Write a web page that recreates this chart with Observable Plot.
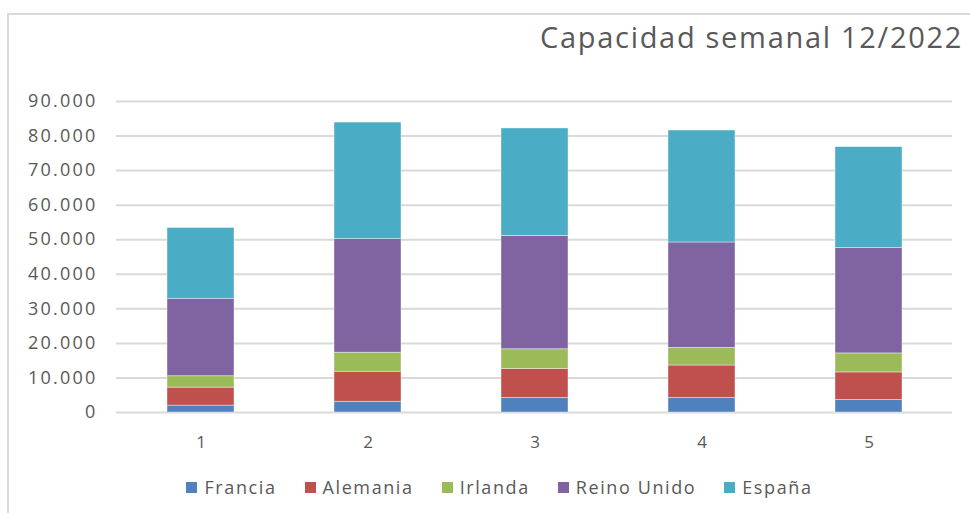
<!DOCTYPE html>
<html>
<head>
<meta charset="utf-8">
<script src="https://cdn.jsdelivr.net/npm/d3@7"></script>
<script src="https://cdn.jsdelivr.net/npm/@observablehq/plot@0.6"></script>
<style>
  html, body { margin: 0; padding: 0; background: #fff; }
  #wrap { position: relative; width: 970px; height: 513px; overflow: hidden; font-family: "Open Sans", sans-serif; color: #595959; }
  #frame { position: absolute; left: 7px; top: 13px; width: 990px; height: 600px; border: 2px solid #d9d9d9; box-sizing: border-box; }
  #title { position: absolute; left: 540px; top: 23px; font-size: 29px; line-height: 28px; white-space: nowrap; letter-spacing: 1.7px; color: #595959; }
  #chart { position: absolute; left: 0; top: 60px; }
  #chart g[aria-label="y-axis tick label"] text { letter-spacing: 2.2px; }
  #legend { position: absolute; left: 0; width: 999px; top: 475px; height: 24px; display: flex; justify-content: center; align-items: center; font-size: 18px; letter-spacing: 1.6px; }
  .item { display: flex; align-items: center; margin: 0 14px; }
  .sw { width: 11px; height: 11px; margin-right: 7px; }
</style>
</head>
<body>
<div id="wrap">
  <div id="frame"></div>
  <div id="title">Capacidad semanal 12/2022</div>
  <div id="chart"></div>
  <div id="legend"></div>
</div>
<script>
const semanas = ["1", "2", "3", "4", "5"];
const paises = ["Francia", "Alemania", "Irlanda", "Reino Unido", "España"];
const colores = ["#4f81bd", "#c0504d", "#9bbb59", "#8064a2", "#4bacc6"];
const francia    = [2000, 3100, 4200, 4200, 3600];
const alemania   = [5200, 8700, 8400, 9400, 8000];
const irlanda    = [3300, 5500, 5700, 5100, 5500];
const reinoUnido = [22400, 32900, 32800, 30500, 30500];
const espana     = [20500, 33700, 31100, 32400, 29200];
const yTicks = [0, 10000, 20000, 30000, 40000, 50000, 60000, 70000, 80000, 90000];

const series = [francia, alemania, irlanda, reinoUnido, espana];
const rows = [];
paises.forEach((p, j) => semanas.forEach((s, i) => rows.push({semana: s, pais: p, valor: series[j][i]})));

const fmt = d3.formatLocale({decimal: ",", thousands: ".", grouping: [3], currency: ["", "€"]}).format(",");

const chart = Plot.plot({
  width: 970,
  height: 400,
  marginLeft: 116,
  marginRight: 18,
  marginTop: 41,
  marginBottom: 48,
  style: {fontFamily: "Open Sans, sans-serif", color: "#595959", background: "transparent", overflow: "visible"},
  x: {domain: semanas, paddingInner: 0.6, paddingOuter: 0.3, label: null},
  y: {domain: [0, 90000], label: null},
  color: {domain: paises, range: colores},
  marks: [
    Plot.ruleY(yTicks, {stroke: "#d9d9d9", strokeWidth: 2, strokeOpacity: 1}),
    Plot.barY(rows, Plot.stackY({x: "semana", y: "valor", fill: "pais", z: "pais", order: paises, stroke: "#ffffff", strokeWidth: 0.8, strokeOpacity: 0.5})),
    Plot.axisY({ticks: yTicks, tickFormat: fmt, tickSize: 0, tickPadding: 19, fontSize: 18, fill: "#595959", label: null}),
    Plot.axisX({tickSize: 0, tickPadding: 23, fontSize: 17, fill: "#595959", label: null})
  ]
});
document.getElementById("chart").appendChild(chart);

const legend = document.getElementById("legend");
paises.forEach((p, j) => {
  const it = document.createElement("div");
  it.className = "item";
  const sw = document.createElement("div");
  sw.className = "sw";
  sw.style.background = colores[j];
  const tx = document.createElement("span");
  tx.textContent = p;
  it.appendChild(sw);
  it.appendChild(tx);
  legend.appendChild(it);
});
</script>
</body>
</html>
